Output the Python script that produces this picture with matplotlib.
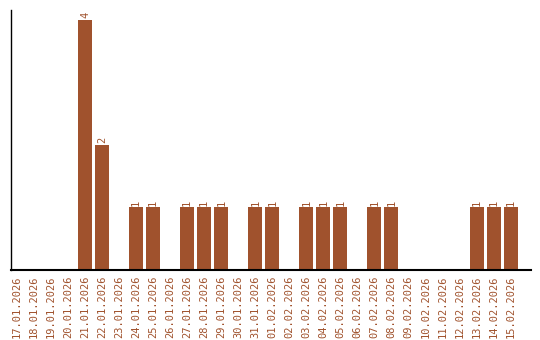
import matplotlib
matplotlib.use('Agg')
import matplotlib.pyplot as plt
import numpy as np

dates = ['17.01.2026', '18.01.2026', '19.01.2026', '20.01.2026', '21.01.2026',
         '22.01.2026', '23.01.2026', '24.01.2026', '25.01.2026', '26.01.2026',
         '27.01.2026', '28.01.2026', '29.01.2026', '30.01.2026', '31.01.2026',
         '01.02.2026', '02.02.2026', '03.02.2026', '04.02.2026', '05.02.2026',
         '06.02.2026', '07.02.2026', '08.02.2026', '09.02.2026', '10.02.2026',
         '11.02.2026', '12.02.2026', '13.02.2026', '14.02.2026', '15.02.2026']
counts = [0, 0, 0, 0, 4, 2, 0, 1, 1, 0, 1, 1, 1, 0, 1,
          1, 0, 1, 1, 1, 0, 1, 1, 0, 0, 0, 0, 1, 1, 1]

color = '#a0522d'

fig = plt.figure(figsize=(5.4, 3.4), dpi=100)
ax = fig.add_axes([0.0204, 0.206, 0.963, 0.765])

x = np.arange(len(dates))
ax.bar(x, counts, width=0.82, color=color)

for xi, c in zip(x, counts):
    if c > 0:
        ax.text(xi, c + 0.03, str(c), rotation=90, ha='center', va='bottom',
                color=color, fontsize=7.5, family='DejaVu Sans Mono')

ax.set_xticks(x)
ax.set_xticklabels(dates, rotation=90, color=color, fontsize=7.5,
                   family='DejaVu Sans Mono')
ax.tick_params(axis='x', length=0, pad=4)
ax.set_yticks([])
ax.set_xlim(-0.35, 30.2)
ax.set_ylim(0, 4.16)
for s in ['top', 'right']:
    ax.spines[s].set_visible(False)
ax.spines['left'].set_linewidth(1)
ax.spines['bottom'].set_linewidth(1.5)

fig.savefig('out.png', dpi=100)
